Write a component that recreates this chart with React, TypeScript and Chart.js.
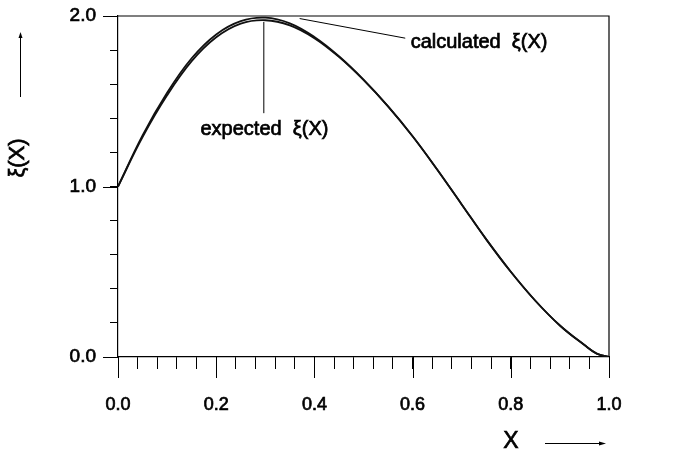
import React, { useEffect, useRef } from "react";
import { Chart, registerables } from "chart.js";

Chart.register(...registerables);

const xValues = [0, 0.05, 0.1, 0.15, 0.2, 0.25, 0.3, 0.35, 0.4, 0.45, 0.5, 0.55, 0.6, 0.65, 0.7, 0.75, 0.8, 0.85, 0.9, 0.95, 0.975, 1.0];
const expectedValues = [1.0, 1.29, 1.535, 1.735, 1.875, 1.955, 1.975, 1.945, 1.87, 1.76, 1.625, 1.47, 1.295, 1.1, 0.895, 0.69, 0.5, 0.33, 0.185, 0.07, 0.02, 0.0];
const calculatedValues = [1.0, 1.3, 1.55, 1.752, 1.892, 1.97, 1.99, 1.957, 1.877, 1.764, 1.627, 1.47, 1.295, 1.1, 0.895, 0.69, 0.5, 0.33, 0.185, 0.07, 0.02, 0.0];

const xMajorTicks = [0, 0.2, 0.4, 0.6, 0.8, 1.0];
const yMajorTicks = [0, 1, 2];

const yAxisLabel = "ξ(X)";
const xAxisLabel = "X";
const expectedLabel = "expected  ξ(X)";
const calculatedLabel = "calculated  ξ(X)";

const FONT = "'Liberation Sans', Arial, Helvetica, sans-serif";

function heavyText(ctx: any, text: string, x: number, y: number) {
  ctx.fillText(text, x, y);
  ctx.save();
  ctx.lineWidth = 0.7;
  ctx.strokeText(text, x, y);
  ctx.restore();
}

const decorPlugin = {
  id: "decor",
  afterDraw(chart: any) {
    const { ctx, chartArea, scales } = chart;
    const xs = scales.x;
    const ys = scales.y;
    ctx.save();
    ctx.strokeStyle = "#000";
    ctx.fillStyle = "#000";
    ctx.lineWidth = 1.2;
    // frame
    ctx.beginPath();
    ctx.moveTo(chartArea.left, chartArea.top);
    ctx.lineTo(chartArea.right, chartArea.top);
    ctx.lineTo(chartArea.right, chartArea.bottom);
    ctx.stroke();
    // major ticks
    ctx.lineWidth = 1;
    xMajorTicks.forEach((v) => {
      const px = Math.round(xs.getPixelForValue(v)) + 0.5;
      ctx.beginPath();
      ctx.moveTo(px, chartArea.bottom);
      ctx.lineTo(px, chartArea.bottom + 21);
      ctx.stroke();
    });
    yMajorTicks.forEach((v) => {
      const py = Math.round(ys.getPixelForValue(v)) + 0.5;
      ctx.beginPath();
      ctx.moveTo(chartArea.left - 15, py);
      ctx.lineTo(chartArea.left, py);
      ctx.stroke();
    });
    // annotation: expected
    const ex = xs.getPixelForValue(0.297);
    ctx.beginPath();
    ctx.moveTo(ex, ys.getPixelForValue(1.965));
    ctx.lineTo(ex, ys.getPixelForValue(1.43));
    ctx.stroke();
    ctx.font = `20px ${FONT}`;
    ctx.textBaseline = "middle";
    ctx.textAlign = "left";
    heavyText(ctx, expectedLabel, xs.getPixelForValue(0.168), ys.getPixelForValue(1.335));
    // annotation: calculated
    ctx.beginPath();
    ctx.moveTo(xs.getPixelForValue(0.37), ys.getPixelForValue(1.985));
    ctx.lineTo(xs.getPixelForValue(0.585), ys.getPixelForValue(1.87));
    ctx.stroke();
    heavyText(ctx, calculatedLabel, xs.getPixelForValue(0.596), ys.getPixelForValue(1.842));
    // y axis title
    ctx.save();
    ctx.translate(18, 158);
    ctx.rotate(-Math.PI / 2);
    ctx.font = `22px ${FONT}`;
    ctx.textAlign = "center";
    ctx.textBaseline = "middle";
    heavyText(ctx, yAxisLabel, 0, 0);
    ctx.restore();
    // y arrow
    ctx.beginPath();
    ctx.moveTo(20.5, 97);
    ctx.lineTo(20.5, 35);
    ctx.stroke();
    ctx.beginPath();
    ctx.moveTo(20.5, 32);
    ctx.lineTo(18.5, 38);
    ctx.lineTo(22.5, 38);
    ctx.closePath();
    ctx.fill();
    // x title
    ctx.font = `23px ${FONT}`;
    ctx.textAlign = "center";
    ctx.textBaseline = "middle";
    heavyText(ctx, xAxisLabel, 511, 442);
    // x arrow
    ctx.beginPath();
    ctx.moveTo(545, 443.5);
    ctx.lineTo(601, 443.5);
    ctx.stroke();
    ctx.beginPath();
    ctx.moveTo(606, 443.5);
    ctx.lineTo(599, 441.5);
    ctx.lineTo(599, 445.5);
    ctx.closePath();
    ctx.fill();
    ctx.restore();
  },
};

export default function App() {
  const ref = useRef<HTMLCanvasElement | null>(null);
  useEffect(() => {
    if (!ref.current) return;
    const chart = new Chart(ref.current, {
      type: "line",
      data: {
        datasets: [
          {
            label: "expected",
            data: xValues.map((x, i) => ({ x, y: expectedValues[i] })),
            borderColor: "#111",
            borderWidth: 1.8,
            pointRadius: 0,
            fill: false,
            tension: 0.4,
          },
          {
            label: "calculated",
            data: xValues.map((x, i) => ({ x, y: calculatedValues[i] })),
            borderColor: "#111",
            borderWidth: 1.8,
            pointRadius: 0,
            fill: false,
            tension: 0.4,
          },
        ],
      },
      options: {
        responsive: false,
        animation: false,
        events: [],
        layout: { padding: { left: 0, right: 69, top: 16, bottom: 0 } },
        plugins: { legend: { display: false }, tooltip: { enabled: false } },
        scales: {
          x: {
            type: "linear",
            min: 0,
            max: 1,
            afterFit: (s: any) => {
              s.height = 103;
              s.paddingLeft = 0;
              s.paddingRight = 0;
            },
            border: { display: true, color: "#000", width: 1.2 },
            grid: { drawOnChartArea: false, tickLength: 12, color: "#000", tickColor: "#000" },
            ticks: {
              stepSize: 0.04,
              autoSkip: false,
              maxRotation: 0,
              padding: 25,
              color: "#000",
              textStrokeColor: "#000",
              textStrokeWidth: 0.7,
              font: { family: FONT, size: 18 },
              callback: (v: any) => {
                const n = Math.round(Number(v) * 100);
                return n % 20 === 0 ? (n / 100).toFixed(1) : "";
              },
            },
          },
          y: {
            type: "linear",
            min: 0,
            max: 2,
            afterFit: (s: any) => {
              s.width = 118;
              s.paddingTop = 0;
              s.paddingBottom = 0;
            },
            border: { display: true, color: "#000", width: 1.2 },
            grid: { drawOnChartArea: false, tickLength: 8, color: "#000", tickColor: "#000" },
            ticks: {
              stepSize: 0.2,
              autoSkip: false,
              padding: 14,
              color: "#000",
              textStrokeColor: "#000",
              textStrokeWidth: 0.7,
              font: { family: FONT, size: 19 },
              callback: (v: any) => {
                const n = Number(v);
                return Math.abs(n - Math.round(n)) < 1e-6 ? n.toFixed(1) : "";
              },
            },
          },
        },
      },
      plugins: [decorPlugin],
    } as any);
    return () => chart.destroy();
  }, []);
  return (
    <div style={{ position: "fixed", left: 0, top: 0, width: 678, height: 460, background: "#fff" }}>
      <canvas ref={ref} width={678} height={460} style={{ display: "block" }} />
    </div>
  );
}
